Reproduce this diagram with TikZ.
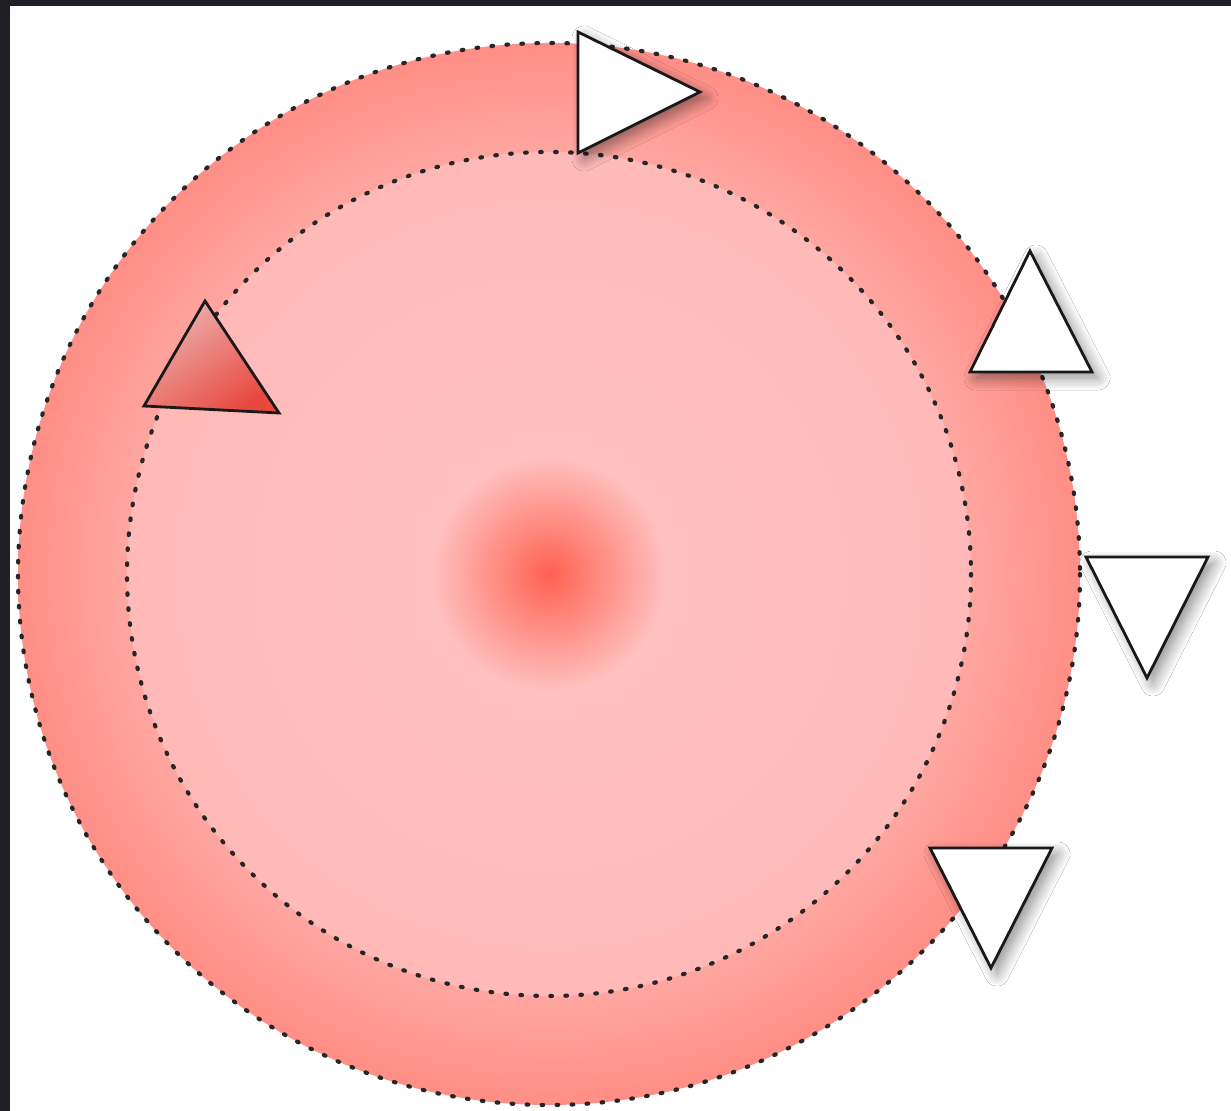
\documentclass[tikz,border=0pt]{standalone}
\usepackage{xcolor}
\usepackage{tikz}
\usetikzlibrary{shadows, shadows.blur}
\definecolor{framedark}{RGB}{30,32,38}
\definecolor{ringdark}{RGB}{255,142,134}
\definecolor{ringlight}{RGB}{255,170,165}
\definecolor{diskpink}{RGB}{255,193,191}
\definecolor{spotred}{RGB}{255,96,80}
\definecolor{tritop}{RGB}{236,178,175}
\definecolor{tribottom}{RGB}{232,72,62}
\pgfdeclareradialshading{ringshade}{\pgfpoint{0bp}{0bp}}{color(0bp)=(ringlight); color(19bp)=(ringlight); color(25bp)=(ringdark); color(50bp)=(ringdark)}
\pgfdeclareradialshading{diskshade}{\pgfpoint{0bp}{0bp}}{color(0bp)=(spotred); color(2bp)=(spotred!70!diskpink); color(7bp)=(diskpink); color(25bp)=(diskpink!96!red); color(50bp)=(diskpink!96!red)}
\tikzset{
    dotline/.style={draw=black!85, line width=2.1pt, line cap=round, dash pattern=on 0.8pt off 6.7pt},
    marker/.style={draw=black!90, fill=white, line width=1.4pt, line join=miter,
                   blur shadow={shadow xshift=3pt, shadow yshift=-3pt, shadow blur radius=6pt, shadow blur steps=12, shadow opacity=45}},
    redmarker/.style={draw=black!90, line width=1.4pt, line join=miter, shading=axis,
                      top color=tritop, bottom color=tribottom, shading angle=35}
}

\begin{document}
\begin{tikzpicture}[x=0.5pt, y=-0.5pt]
    \useasboundingbox (0,0) rectangle (1231,1111);
    % Frame
    \fill[framedark] (0,0) rectangle (1231,1111);
    \fill[white] (10,6) rectangle (1231,1111);

    % Rings
    \coordinate (c) at (549,574);
    \path[shading=ringshade] (c) circle[radius=531];
    \path[shading=diskshade] (c) circle[radius=422];
    \draw[dotline] (c) circle[radius=531];
    \draw[dotline] (c) circle[radius=422];

    % Markers on the outer ring
    \path[marker] (578,32) -- (700,92) -- (578,153) -- cycle;
    \path[marker] (1030,251) -- (1092,372) -- (970,372) -- cycle;
    \path[marker] (1086,557) -- (1208,557) -- (1147,678) -- cycle;
    \path[marker] (930,848) -- (1052,848) -- (991,968) -- cycle;

    % Marker on the inner ring
    \path[redmarker] (205,301) -- (279,413) -- (144,406) -- cycle;
\end{tikzpicture}
\end{document}
